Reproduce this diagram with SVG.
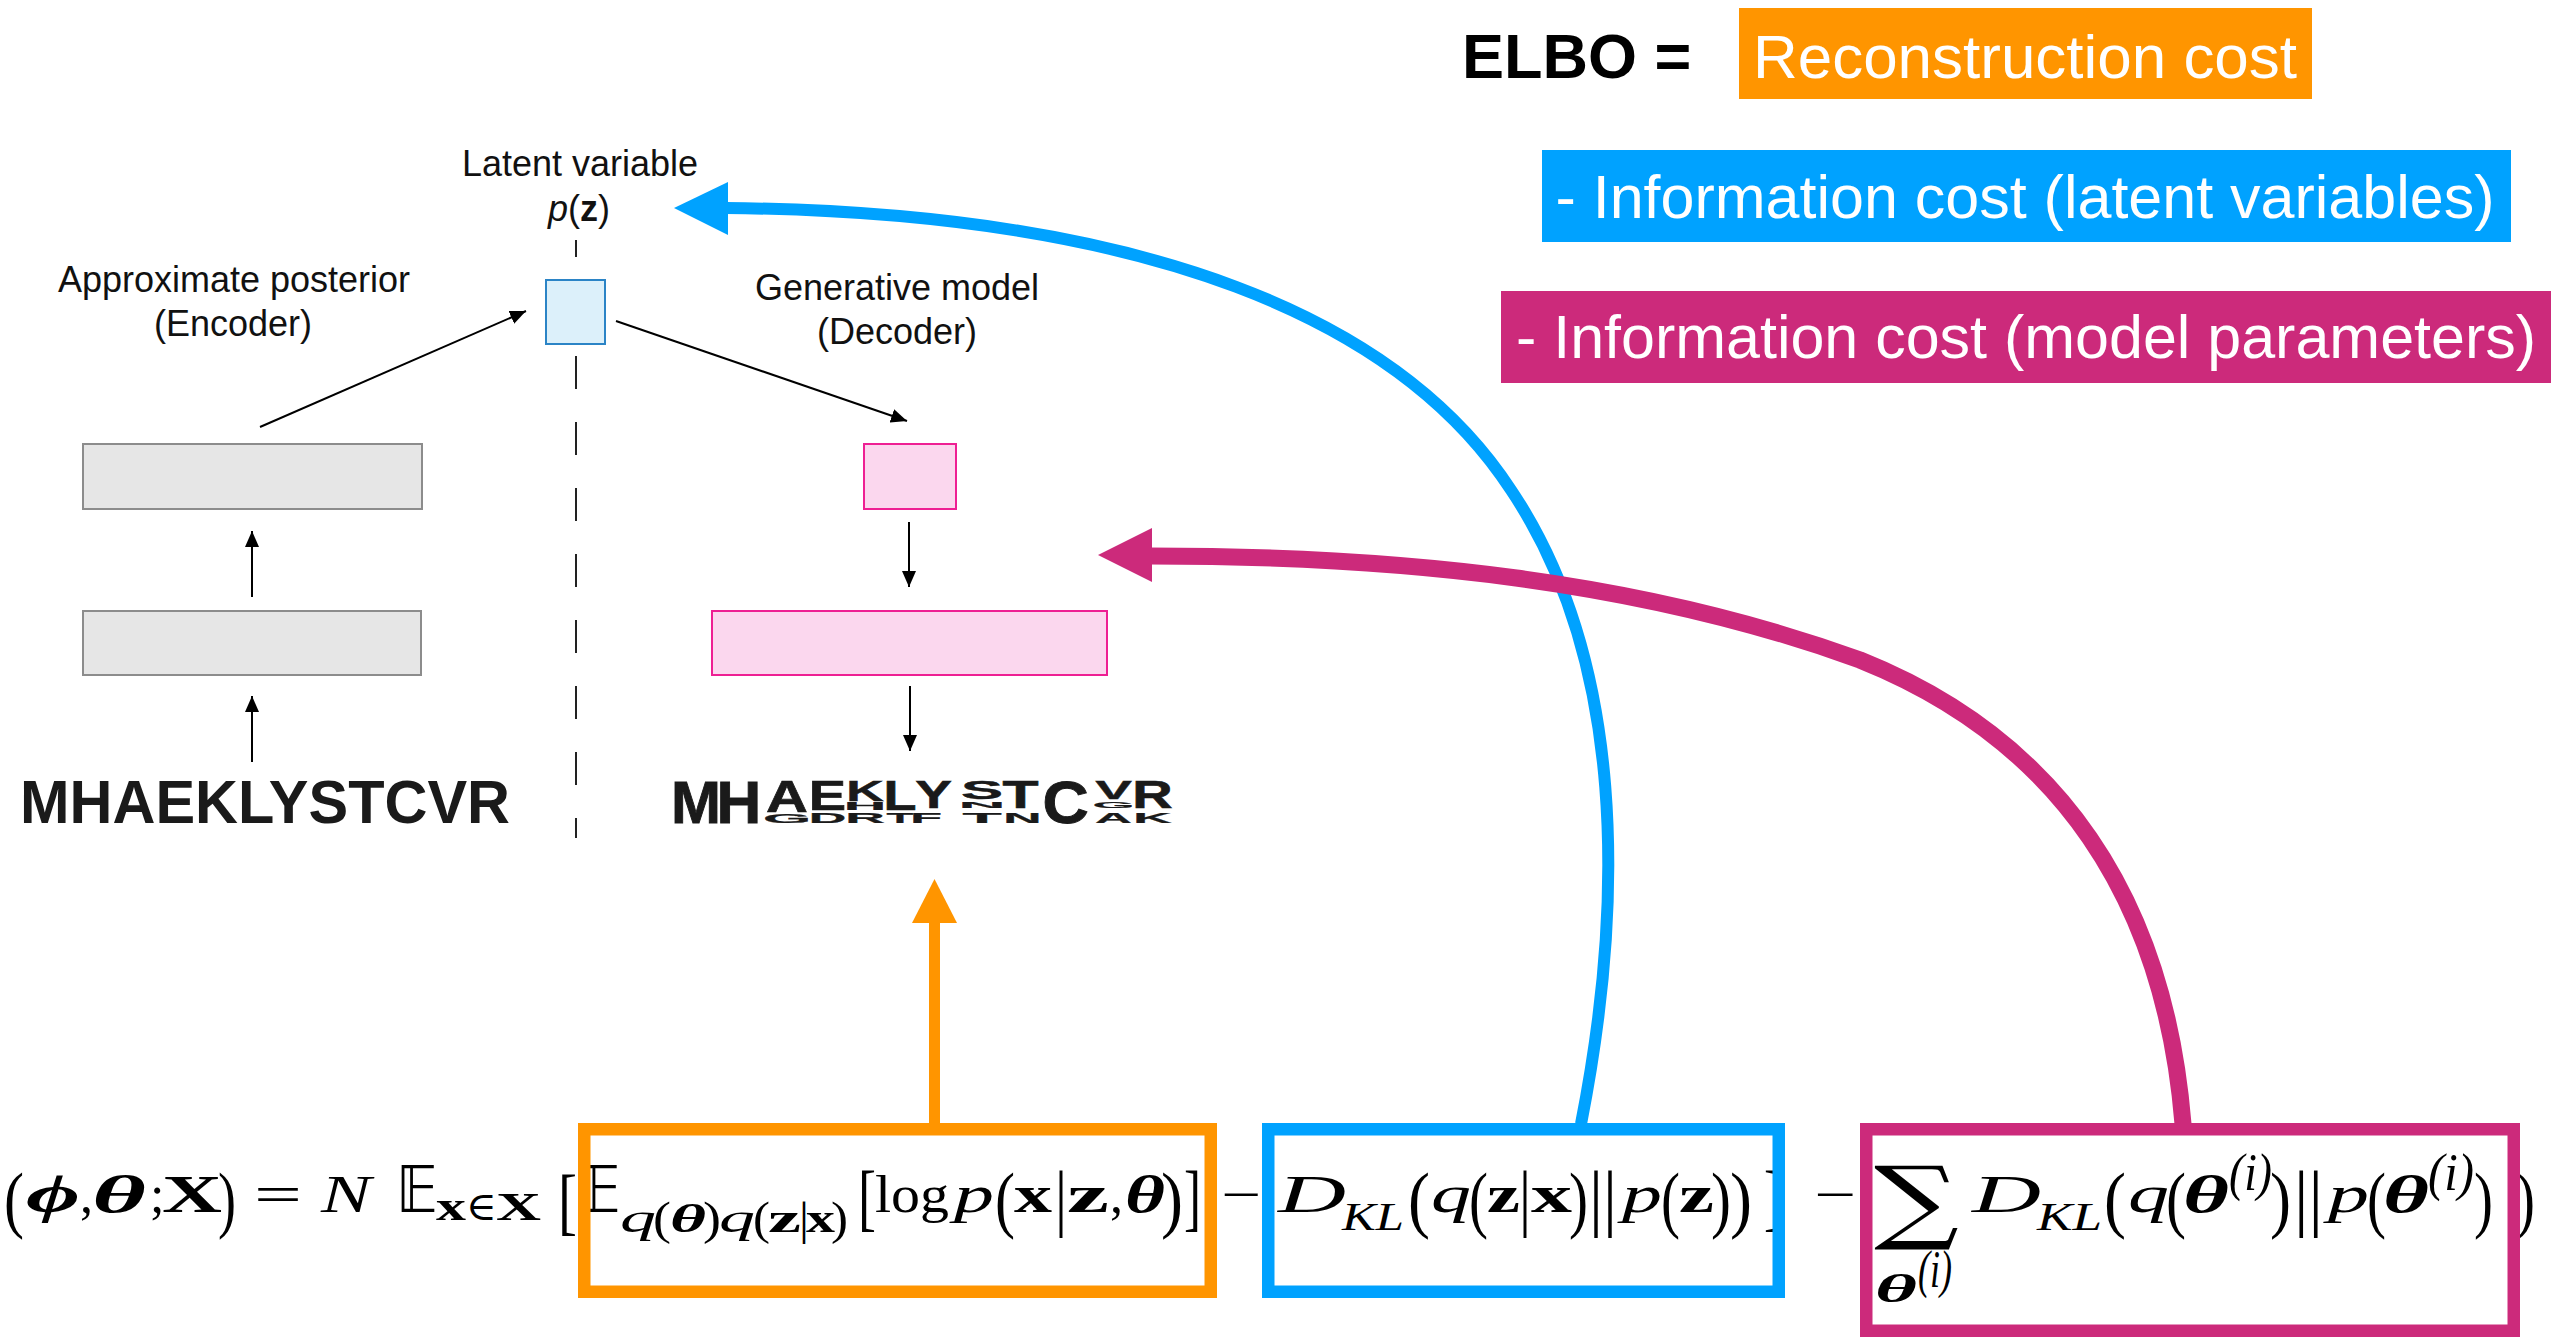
<svg xmlns="http://www.w3.org/2000/svg" width="2556" height="1338" viewBox="0 0 2556 1338">
<defs>
<style>
.lbl{font-family:"Liberation Sans",Arial,sans-serif;font-size:36px;fill:#111}
.big{font-family:"Liberation Sans",Arial,sans-serif;font-size:61px;fill:#fff}
.seq{font-family:"Liberation Sans",Arial,sans-serif;font-weight:bold;fill:#1a1a1a}
.m{font-family:"Liberation Serif","DejaVu Serif",serif;font-size:52px;fill:#000}
.i{font-style:italic}
.b{font-weight:bold}
.bd{font-size:74px}
.s{font-size:40px}
.sp{font-size:46px}
.bb{font-family:"DejaVu Sans",sans-serif;font-size:64px;fill:#000}
.thin{stroke:#000;stroke-width:2;fill:none}
</style>
<marker id="ah" markerWidth="16" markerHeight="14" refX="16" refY="7" orient="auto" markerUnits="userSpaceOnUse"><path d="M0,0 L16,7 L0,14 z" fill="#000"/></marker>
</defs>
<rect width="2556" height="1338" fill="#fff"/>

<g id="legend">
<text x="1462" y="78" style="font-family:'Liberation Sans',Arial,sans-serif;font-weight:bold;font-size:63px;fill:#000">ELBO =</text>
<rect x="1739" y="8" width="573" height="91" fill="#ff9500"/>
<text class="big" x="2025" y="78" text-anchor="middle" textLength="544" lengthAdjust="spacingAndGlyphs">Reconstruction cost</text>
<rect x="1542" y="150" width="969" height="92" fill="#00a2ff"/>
<text class="big" x="2025" y="218" text-anchor="middle" textLength="939" lengthAdjust="spacingAndGlyphs">- Information cost (latent variables)</text>
<rect x="1501" y="291" width="1050" height="92" fill="#cc2a7b"/>
<text class="big" x="2026" y="358" text-anchor="middle" textLength="1020" lengthAdjust="spacingAndGlyphs">- Information cost (model parameters)</text>
</g>

<g id="labels">
<text class="lbl" x="580" y="176" text-anchor="middle">Latent variable</text>
<text class="lbl" x="579" y="221" text-anchor="middle"><tspan font-style="italic">p</tspan>(<tspan font-weight="bold">z</tspan>)</text>
<text class="lbl" x="234" y="292" text-anchor="middle">Approximate posterior</text>
<text class="lbl" x="233" y="336" text-anchor="middle">(Encoder)</text>
<text class="lbl" x="897" y="300" text-anchor="middle">Generative model</text>
<text class="lbl" x="897" y="344" text-anchor="middle">(Decoder)</text>
</g>

<line x1="576" y1="240" x2="576" y2="838" stroke="#222" stroke-width="2" stroke-dasharray="33 33" stroke-dashoffset="16"/>

<g id="node-latent"><rect x="546" y="280" width="59" height="64" fill="#dcf0fa" stroke="#2b84c6" stroke-width="2"/></g>
<g id="node-enc-top"><rect x="83" y="444" width="339" height="65" fill="#e6e6e6" stroke="#8c8c8c" stroke-width="2"/></g>
<g id="node-enc-bottom"><rect x="83" y="611" width="338" height="64" fill="#e6e6e6" stroke="#8c8c8c" stroke-width="2"/></g>
<g id="node-dec-small"><rect x="864" y="444" width="92" height="65" fill="#fbd7ee" stroke="#ee1f93" stroke-width="2"/></g>
<g id="node-dec-big"><rect x="712" y="611" width="395" height="64" fill="#fbd7ee" stroke="#ee1f93" stroke-width="2"/></g>

<g id="node-input-seq">
<text class="seq" x="20" y="823" font-size="62" textLength="490" lengthAdjust="spacingAndGlyphs">MHAEKLYSTCVR</text>
</g>

<g id="node-logo" class="seq" font-size="100" text-anchor="middle" stroke="#1a1a1a" stroke-width="1.5">
<text transform="translate(696,823) scale(0.60,0.60)">M</text>
<text transform="translate(739,823) scale(0.62,0.60)">H</text>
<text transform="translate(787,812) scale(0.58,0.447)">A</text>
<text transform="translate(787,823) scale(0.62,0.126)">G</text>
<text transform="translate(827.5,810) scale(0.56,0.42)">E</text>
<text transform="translate(827.5,823) scale(0.52,0.14)">D</text>
<text transform="translate(865,801) scale(0.52,0.29)">K</text>
<text transform="translate(865,810) scale(0.59,0.10)">H</text>
<text transform="translate(865,823) scale(0.55,0.14)">R</text>
<text transform="translate(900,810) scale(0.54,0.42)">L</text>
<text transform="translate(900,823) scale(0.44,0.14)">T</text>
<text transform="translate(933.5,808) scale(0.55,0.39)">Y</text>
<text transform="translate(926,823) scale(0.52,0.154)">F</text>
<text transform="translate(982,799) scale(0.63,0.265)">S</text>
<text transform="translate(982,808) scale(0.65,0.098)">N</text>
<text transform="translate(982,823) scale(0.64,0.154)">T</text>
<text transform="translate(1020.5,808) scale(0.59,0.39)">T</text>
<text transform="translate(1022.5,823) scale(0.53,0.154)">N</text>
<text transform="translate(1065.5,823) scale(0.64,0.60)">C</text>
<text transform="translate(1113.5,799) scale(0.55,0.265)">V</text>
<text transform="translate(1113.5,808) scale(0.54,0.098)">G</text>
<text transform="translate(1113.5,823) scale(0.51,0.154)">A</text>
<text transform="translate(1152.5,808) scale(0.56,0.39)">R</text>
<text transform="translate(1152.5,823) scale(0.53,0.154)">K</text>
</g>

<g id="connectors">
<line class="thin" x1="252" y1="762" x2="252" y2="696" marker-end="url(#ah)"/>
<line class="thin" x1="252" y1="597" x2="252" y2="531" marker-end="url(#ah)"/>
<line class="thin" x1="260" y1="427" x2="526" y2="311" marker-end="url(#ah)"/>
<line class="thin" x1="616" y1="321" x2="907" y2="421" marker-end="url(#ah)"/>
<line class="thin" x1="909" y1="522" x2="909" y2="587" marker-end="url(#ah)"/>
<line class="thin" x1="910" y1="686" x2="910" y2="751" marker-end="url(#ah)"/>
<line x1="934.5" y1="1124" x2="934.5" y2="920" stroke="#ff9500" stroke-width="11"/>
<polygon points="934.5,879 912,923 957,923" fill="#ff9500"/>
<path d="M1581,1124 C1625,900 1625,660 1511,490 C1400,320 1150,212 726,208" fill="none" stroke="#00a2ff" stroke-width="12"/>
<polygon points="674,208 728,182 728,235" fill="#00a2ff"/>
<path d="M2183,1124 C2165,900 2060,740 1860,660 C1640,580 1400,556 1150,556" fill="none" stroke="#cc2a7b" stroke-width="17"/>
<polygon points="1098,555 1152,528 1152,582" fill="#cc2a7b"/>
</g>

<g id="formula">
<text class="m bd" x="4" y="1224" textLength="20" lengthAdjust="spacingAndGlyphs">(</text>
<text class="m b i" x="26" y="1212" textLength="54" lengthAdjust="spacingAndGlyphs">ϕ</text>
<text class="m" x="80" y="1212">,</text>
<text class="m b i" x="92" y="1212" textLength="54" lengthAdjust="spacingAndGlyphs">θ</text>
<text class="m" x="150" y="1212">;</text>
<text class="m b" x="162" y="1212" textLength="60" lengthAdjust="spacingAndGlyphs">X</text>
<text class="m bd" x="218" y="1224" textLength="18" lengthAdjust="spacingAndGlyphs">)</text>
<text class="m" x="254" y="1212" textLength="48" lengthAdjust="spacingAndGlyphs">=</text>
<text class="m i" x="321" y="1212" textLength="50" lengthAdjust="spacingAndGlyphs">N</text>
<text class="bb" x="396" y="1212" textLength="42" lengthAdjust="spacingAndGlyphs">𝔼</text>
<text class="m s b" x="436" y="1220" textLength="30" lengthAdjust="spacingAndGlyphs">x</text>
<text class="m s" x="466" y="1220" textLength="31" lengthAdjust="spacingAndGlyphs">∈</text>
<text class="m s b" x="496" y="1220" textLength="45" lengthAdjust="spacingAndGlyphs">X</text>
<text class="m bd" x="558" y="1226" textLength="19" lengthAdjust="spacingAndGlyphs">[</text>
<text class="bb" x="578" y="1212" textLength="43" lengthAdjust="spacingAndGlyphs">𝔼</text>
<text class="m s i" x="620" y="1232" textLength="36" lengthAdjust="spacingAndGlyphs">q</text>
<text class="m sp" x="653" y="1234" textLength="18" lengthAdjust="spacingAndGlyphs">(</text>
<text class="m s b i" x="670" y="1232" textLength="36" lengthAdjust="spacingAndGlyphs">θ</text>
<text class="m sp" x="703" y="1234" textLength="18" lengthAdjust="spacingAndGlyphs">)</text>
<text class="m s i" x="719" y="1232" textLength="36" lengthAdjust="spacingAndGlyphs">q</text>
<text class="m sp" x="753" y="1234" textLength="17" lengthAdjust="spacingAndGlyphs">(</text>
<text class="m s b" x="768" y="1232" textLength="33" lengthAdjust="spacingAndGlyphs">z</text>
<text class="m sp" x="799" y="1234" textLength="10" lengthAdjust="spacingAndGlyphs">|</text>
<text class="m s b" x="806" y="1232" textLength="29" lengthAdjust="spacingAndGlyphs">x</text>
<text class="m sp" x="831" y="1234" textLength="17" lengthAdjust="spacingAndGlyphs">)</text>
<text class="m bd" x="858" y="1222" textLength="18" lengthAdjust="spacingAndGlyphs">[</text>
<text class="m" x="875" y="1212" textLength="74" lengthAdjust="spacingAndGlyphs">log</text>
<text class="m i" x="954" y="1212" textLength="40" lengthAdjust="spacingAndGlyphs">p</text>
<text class="m bd" x="995" y="1224" textLength="20" lengthAdjust="spacingAndGlyphs">(</text>
<text class="m b" x="1014" y="1212" textLength="38" lengthAdjust="spacingAndGlyphs">x</text>
<text class="m bd" x="1055" y="1222" textLength="12" lengthAdjust="spacingAndGlyphs">|</text>
<text class="m b" x="1067" y="1212" textLength="42" lengthAdjust="spacingAndGlyphs">z</text>
<text class="m" x="1110" y="1212">,</text>
<text class="m b i" x="1125" y="1212" textLength="40" lengthAdjust="spacingAndGlyphs">θ</text>
<text class="m bd" x="1161" y="1224" textLength="22" lengthAdjust="spacingAndGlyphs">)</text>
<text class="m bd" x="1184" y="1222" textLength="17" lengthAdjust="spacingAndGlyphs">]</text>
<text class="m" x="1221" y="1212" textLength="40" lengthAdjust="spacingAndGlyphs">−</text>
<text class="m i" x="1278" y="1212" textLength="68" lengthAdjust="spacingAndGlyphs">D</text>
<text class="m s i" x="1342" y="1230" textLength="62" lengthAdjust="spacingAndGlyphs">KL</text>
<text class="m bd" x="1408" y="1224" textLength="22" lengthAdjust="spacingAndGlyphs">(</text>
<text class="m i" x="1431" y="1212" textLength="40" lengthAdjust="spacingAndGlyphs">q</text>
<text class="m bd" x="1469" y="1224" textLength="19" lengthAdjust="spacingAndGlyphs">(</text>
<text class="m b" x="1487" y="1212" textLength="33" lengthAdjust="spacingAndGlyphs">z</text>
<text class="m bd" x="1519" y="1222" textLength="12" lengthAdjust="spacingAndGlyphs">|</text>
<text class="m b" x="1531" y="1212" textLength="41" lengthAdjust="spacingAndGlyphs">x</text>
<text class="m bd" x="1569" y="1224" textLength="19" lengthAdjust="spacingAndGlyphs">)</text>
<text class="m bd" x="1589" y="1222" textLength="28" lengthAdjust="spacingAndGlyphs">||</text>
<text class="m i" x="1622" y="1212" textLength="40" lengthAdjust="spacingAndGlyphs">p</text>
<text class="m bd" x="1661" y="1224" textLength="19" lengthAdjust="spacingAndGlyphs">(</text>
<text class="m b" x="1679" y="1212" textLength="35" lengthAdjust="spacingAndGlyphs">z</text>
<text class="m bd" x="1711" y="1224" textLength="20" lengthAdjust="spacingAndGlyphs">)</text>
<text class="m bd" x="1730" y="1224" textLength="22" lengthAdjust="spacingAndGlyphs">)</text>
<text class="m bd" x="1764" y="1222" textLength="17" lengthAdjust="spacingAndGlyphs">]</text>
<text class="m" x="1814" y="1212" textLength="42" lengthAdjust="spacingAndGlyphs">−</text>
<text x="1874" y="1232" style="font-family:'DejaVu Serif',serif;font-size:92px" textLength="85" lengthAdjust="spacingAndGlyphs">∑</text>
<text class="m s b i" x="1875" y="1302" textLength="42" lengthAdjust="spacingAndGlyphs">θ</text>
<text class="m i" x="1918" y="1287" font-size="30" textLength="34" lengthAdjust="spacingAndGlyphs">(i)</text>
<text class="m i" x="1972" y="1212" textLength="69" lengthAdjust="spacingAndGlyphs">D</text>
<text class="m s i" x="2037" y="1230" textLength="65" lengthAdjust="spacingAndGlyphs">KL</text>
<text class="m bd" x="2104" y="1224" textLength="22" lengthAdjust="spacingAndGlyphs">(</text>
<text class="m i" x="2128" y="1212" textLength="41" lengthAdjust="spacingAndGlyphs">q</text>
<text class="m bd" x="2166" y="1224" textLength="20" lengthAdjust="spacingAndGlyphs">(</text>
<text class="m b i" x="2183" y="1212" textLength="46" lengthAdjust="spacingAndGlyphs">θ</text>
<text class="m i" x="2229" y="1190" font-size="36" textLength="43" lengthAdjust="spacingAndGlyphs">(i)</text>
<text class="m bd" x="2270" y="1224" textLength="21" lengthAdjust="spacingAndGlyphs">)</text>
<text class="m bd" x="2294" y="1222" textLength="29" lengthAdjust="spacingAndGlyphs">||</text>
<text class="m i" x="2328" y="1212" textLength="41" lengthAdjust="spacingAndGlyphs">p</text>
<text class="m bd" x="2367" y="1224" textLength="19" lengthAdjust="spacingAndGlyphs">(</text>
<text class="m b i" x="2383" y="1212" textLength="46" lengthAdjust="spacingAndGlyphs">θ</text>
<text class="m i" x="2428" y="1190" font-size="36" textLength="46" lengthAdjust="spacingAndGlyphs">(i)</text>
<text class="m bd" x="2474" y="1224" textLength="19" lengthAdjust="spacingAndGlyphs">)</text>
<text class="m bd" x="2516" y="1224" textLength="19" lengthAdjust="spacingAndGlyphs">)</text>
</g>

<g id="node-recon-term"><rect x="584.25" y="1129.25" width="626.5" height="162.5" fill="none" stroke="#ff9500" stroke-width="12.5"/></g>
<g id="node-latent-term"><rect x="1268.25" y="1129.25" width="510.5" height="162.5" fill="none" stroke="#00a2ff" stroke-width="12.5"/></g>
<g id="node-param-term"><rect x="1866.25" y="1129.25" width="647.5" height="201.5" fill="none" stroke="#cc2a7b" stroke-width="12.5"/></g>
</svg>
